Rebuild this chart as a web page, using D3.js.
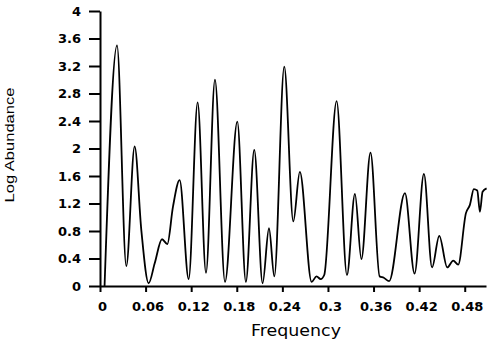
<!DOCTYPE html>
<html>
<head>
<meta charset="utf-8">
<script src="https://cdn.jsdelivr.net/npm/d3@7"></script>
<style>
  html, body { margin: 0; padding: 0; background: #fff; }
  svg { display: block; }
</style>
</head>
<body>
<svg id="chart" width="500" height="346"></svg>
<script>
// ---- data ----
const freq = [0.006, 0.0224, 0.0346, 0.0456, 0.0544, 0.064, 0.072, 0.0816, 0.0886, 0.096,
  0.1048, 0.1167, 0.1285, 0.1395, 0.1513, 0.1645, 0.1807, 0.192, 0.203, 0.214,
  0.2224, 0.2294, 0.2425, 0.2544, 0.263, 0.2785, 0.285, 0.2904, 0.2951, 0.3114,
  0.325, 0.3355, 0.344, 0.356, 0.368, 0.3735, 0.3805, 0.4013, 0.414, 0.4263,
  0.437, 0.4465, 0.457, 0.4649, 0.4714, 0.4816, 0.4868, 0.492, 0.4965, 0.5,
  0.5035, 0.5088];
const logAbundance = [0, 3.5, 0.29, 2.03, 0.81, 0.04, 0.33, 0.68, 0.61, 1.15,
  1.54, 0.1, 2.67, 0.19, 3.0, 0.06, 2.39, 0.06, 1.98, 0.04,
  0.84, 0.14, 3.19, 0.94, 1.66, 0.06, 0.14, 0.1, 0.16, 2.69,
  0.16, 1.34, 0.39, 1.94, 0.14, 0.12, 0.07, 1.35, 0.18, 1.63,
  0.27, 0.73, 0.27, 0.37, 0.31, 1.06, 1.18, 1.41, 1.39, 1.08,
  1.37, 1.42];
const xTicks = [0, 0.06, 0.12, 0.18, 0.24, 0.3, 0.36, 0.42, 0.48];
const yTicks = [0, 0.4, 0.8, 1.2, 1.6, 2, 2.4, 2.8, 3.2, 3.6, 4];
const xDomain = [0, 0.508];
const yDomain = [0, 4];

// ---- drawing ----
const svg = d3.select("#chart");
const x = d3.scaleLinear().domain(xDomain).range([100, 486]);
const y = d3.scaleLinear().domain(yDomain).range([286, 11]);

const points = freq.map((f, i) => [f, logAbundance[i]]);

const line = d3.line()
  .x(d => x(d[0]))
  .y(d => y(d[1]))
  .curve(d3.curveMonotoneX);

svg.append("path")
  .datum(points)
  .attr("d", line)
  .attr("fill", "none")
  .attr("stroke", "#000")
  .attr("stroke-width", 1.8)
  .attr("stroke-linejoin", "round");

const tickFont = "'DejaVu Sans', Verdana, sans-serif";

const xAxis = svg.append("g")
  .attr("transform", "translate(0,286)")
  .call(d3.axisBottom(x).tickValues(xTicks).tickFormat(d3.format("")).tickSize(6).tickSizeOuter(0).tickPadding(10));

const yAxis = svg.append("g")
  .attr("transform", "translate(100,0)")
  .call(d3.axisLeft(y).tickValues(yTicks).tickFormat(d3.format("")).tickSize(11).tickSizeOuter(0).tickPadding(8));

[xAxis, yAxis].forEach(g => {
  g.select(".domain").attr("stroke", "#000").attr("stroke-width", 2);
  g.selectAll(".tick line").attr("stroke", "#000").attr("stroke-width", 2);
  g.selectAll(".tick text")
    .attr("fill", "#000")
    .style("font-family", tickFont)
    .style("font-weight", "bold")
    .style("font-size", "13px");
});
xAxis.selectAll(".tick text").attr("dx", 2);

svg.append("text")
  .attr("x", 296)
  .attr("y", 336)
  .attr("text-anchor", "middle")
  .attr("textLength", 90)
  .attr("lengthAdjust", "spacingAndGlyphs")
  .style("font-family", tickFont)
  .style("font-size", "15px")
  .attr("fill", "#000")
  .text("Frequency");

svg.append("text")
  .attr("transform", "translate(14,145) rotate(-90)")
  .attr("text-anchor", "middle")
  .attr("textLength", 115)
  .attr("lengthAdjust", "spacingAndGlyphs")
  .style("font-family", "'Liberation Sans', Arial, sans-serif")
  .style("font-size", "12px")
  .attr("fill", "#000")
  .text("Log Abundance");
</script>
</body>
</html>
